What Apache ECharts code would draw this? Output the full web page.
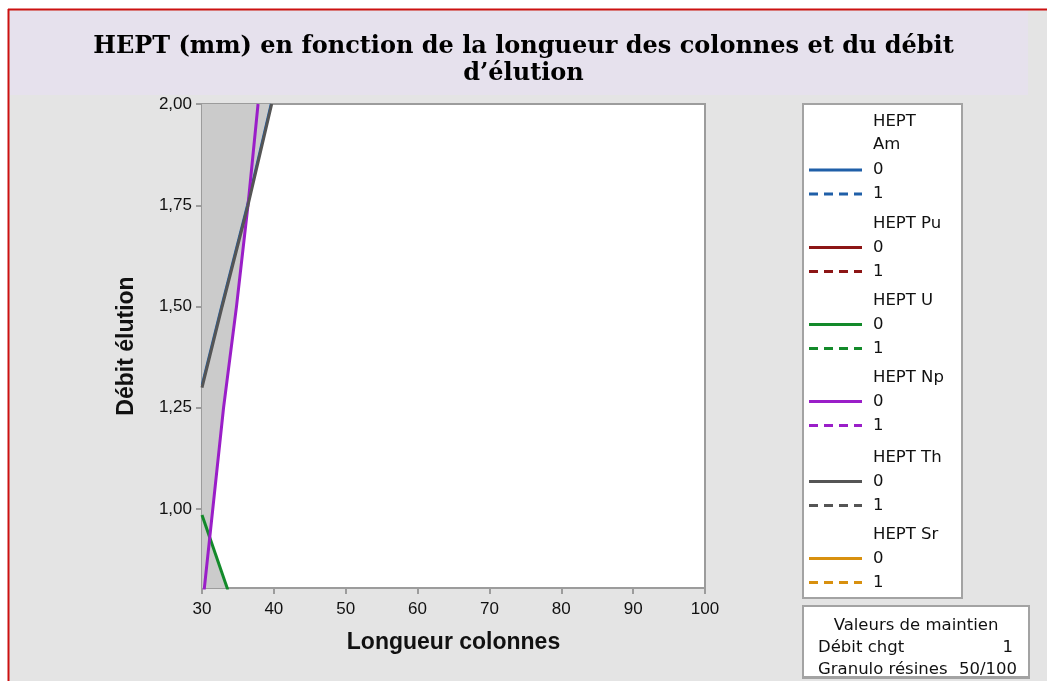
<!DOCTYPE html>
<html>
<head>
<meta charset="utf-8">
<script src="https://cdn.jsdelivr.net/npm/echarts@6/dist/echarts.min.js"></script>
<style>html,body{margin:0;padding:0;background:#fff;}#c{width:1047px;height:681px;}</style>
</head>
<body>
<div id="c"></div>
<script>
// ---- data ----
const xTicks = [30, 40, 50, 60, 70, 80, 90, 100];
const yTicks = [1.00, 1.25, 1.50, 1.75, 2.00];
const amLine0 = [[30, 1.307], [32.7, 1.5], [36.3, 1.75], [39.6, 2.0]];
const puLine0 = [];
const uLine0  = [[30, 0.985], [33.6, 0.8]];
const npLine0 = [[30.3, 0.8], [31.5, 1.0], [33.0, 1.25], [34.8, 1.5], [36.4, 1.75], [37.8, 2.0]];
const thLine0 = [[30, 1.30], [32.8, 1.5], [36.4, 1.75], [39.7, 2.0]];
const srLine0 = [];
const infeasibleRegion = [[30, 2.0], [39.7, 2.0], [36.4, 1.75], [34.8, 1.5], [33.0, 1.25], [31.5, 1.0], [31.1, 0.93], [33.6, 0.8], [30, 0.8]];
const legendGroups = ['HEPT\nAm', 'HEPT Pu', 'HEPT U', 'HEPT Np', 'HEPT Th', 'HEPT Sr'];
const legendColors = ['#1f5fa8', '#8c1515', '#138a2a', '#9a1ec8', '#555555', '#d8900e'];
const holdTitle = 'Valeurs de maintien';
const holdRows = [['Débit chgt', '1'], ['Granulo résines', '50/100']];

const chart = echarts.init(document.getElementById('c'), null, {renderer: 'canvas'});
const sans = 'Liberation Sans';
const legFont = '16.5px "DejaVu Sans"';

function lineSeries(name, data, color, width) {
  return {type: 'line', name, data, showSymbol: false, symbol: 'none', z: 5,
    lineStyle: {color, width: width, type: 'solid'}, animation: false};
}

const g = [];
g.push({type: 'rect', shape: {x: 0, y: 0, width: 1047, height: 9}, style: {fill: '#fff'}, silent: true});
g.push({type: 'rect', shape: {x: 0, y: 0, width: 8, height: 681}, style: {fill: '#fff'}, silent: true});
g.push({type: 'line', shape: {x1: 8, y1: 9.5, x2: 1047, y2: 9.5}, style: {stroke: '#cc1111', lineWidth: 2}});
g.push({type: 'line', shape: {x1: 8.5, y1: 9, x2: 8.5, y2: 681}, style: {stroke: '#cc1111', lineWidth: 2}});
g.push({type: 'rect', shape: {x: 10, y: 11, width: 1018, height: 84}, style: {fill: '#e6e1ed'}, z: -1});
// legend box
g.push({type: 'rect', shape: {x: 803, y: 104, width: 159, height: 494}, style: {fill: '#fff', stroke: '#a3a3a3', lineWidth: 2}});
const headY = [122, 224, 301, 378, 458, 535];
legendGroups.forEach((name, i) => {
  const hy = headY[i];
  const isTwo = name.indexOf('\n') >= 0;
  g.push({type: 'text', x: 873, y: isTwo ? hy + 11 : hy, style: {text: name, font: legFont, fill: '#111', textVerticalAlign: 'middle', lineHeight: 23}, z: 10});
  const y0 = hy + (isTwo ? 48 : 23.5);
  const y1 = y0 + 24;
  g.push({type: 'line', shape: {x1: 809, y1: y0, x2: 862, y2: y0}, style: {stroke: legendColors[i], lineWidth: 3}, z: 10});
  g.push({type: 'line', shape: {x1: 809, y1: y1, x2: 862, y2: y1}, style: {stroke: legendColors[i], lineWidth: 3, lineDash: [9, 6]}, z: 10});
  g.push({type: 'text', x: 873, y: y0, style: {text: '0', font: legFont, fill: '#111', textVerticalAlign: 'middle'}, z: 10});
  g.push({type: 'text', x: 873, y: y1, style: {text: '1', font: legFont, fill: '#111', textVerticalAlign: 'middle'}, z: 10});
});
// hold values box
g.push({type: 'rect', shape: {x: 803, y: 606, width: 226, height: 72}, style: {fill: '#fff', stroke: '#a3a3a3', lineWidth: 2}});
g.push({type: 'text', x: 916, y: 626, style: {text: holdTitle, font: legFont, fill: '#111', textAlign: 'center', textVerticalAlign: 'middle'}, z: 10});
holdRows.forEach((r, i) => {
  const y = 648 + i * 22;
  g.push({type: 'text', x: 818, y, style: {text: r[0], font: legFont, fill: '#111', textVerticalAlign: 'middle'}, z: 10});
  g.push({type: 'text', x: i === 0 ? 1013 : 1017, y, style: {text: r[1], font: legFont, fill: '#111', textAlign: 'right', textVerticalAlign: 'middle'}, z: 10});
});
g.push({type: 'line', shape: {x1: 803, y1: 677, x2: 1029, y2: 677}, style: {stroke: '#a3a3a3', lineWidth: 2}, z: 11});

const option = {
  backgroundColor: '#e4e4e4',
  animation: false,
  title: {
    text: 'HEPT (mm) en fonction de la longueur des colonnes et du débit\nd\u2019élution',
    left: 'center', top: 28,
    textStyle: {fontFamily: 'DejaVu Serif', fontWeight: 'bold', fontSize: 24, lineHeight: 27, color: '#000'}
  },
  grid: {left: 202, right: 342, top: 104, bottom: 93, show: true, backgroundColor: '#fff', borderColor: '#9c9c9c', borderWidth: 2, outerBoundsMode: 'none'},
  xAxis: {
    type: 'value', min: 30, max: 100, interval: 10,
    name: 'Longueur colonnes', nameLocation: 'middle', nameGap: 43,
    nameTextStyle: {fontFamily: sans, fontWeight: 'bold', fontSize: 23, color: '#111'},
    axisLine: {show: true, lineStyle: {color: '#9c9c9c', width: 2}},
    axisTick: {show: true, length: 6, lineStyle: {color: '#9c9c9c', width: 2}},
    axisLabel: {fontFamily: sans, fontSize: 17, color: '#111', margin: 13, customValues: xTicks},
    splitLine: {show: false}
  },
  yAxis: {
    type: 'value', min: 0.805, max: 2.0,
    name: 'Débit élution', nameLocation: 'middle', nameGap: 64,
    nameTextStyle: {fontFamily: sans, fontWeight: 'bold', fontSize: 23, color: '#111'},
    axisLine: {show: true, lineStyle: {color: '#9c9c9c', width: 2}},
    axisTick: {show: true, length: 6, lineStyle: {color: '#9c9c9c', width: 2}, customValues: yTicks},
    axisLabel: {fontFamily: sans, fontSize: 17, color: '#111', margin: 10, customValues: yTicks,
      formatter: v => v.toFixed(2).replace('.', ',')},
    splitLine: {show: false}
  },
  series: [
    {type: 'custom', data: [0], z: 2, clip: true, silent: true,
      renderItem: (params, api) => {
        const pts = infeasibleRegion.map(p => api.coord(p));
        return {type: 'polygon', shape: {points: pts}, style: {fill: '#cbcbcb'}};
      }},
    lineSeries('Am 0', amLine0, legendColors[0], 2.5),
    lineSeries('Pu 0', puLine0, legendColors[1], 3),
    lineSeries('U 0', uLine0, legendColors[2], 3),
    lineSeries('Np 0', npLine0, legendColors[3], 3),
    lineSeries('Th 0', thLine0, legendColors[4], 3),
    lineSeries('Sr 0', srLine0, legendColors[5], 3)
  ],
  graphic: g
};
chart.setOption(option);
</script>
</body>
</html>
